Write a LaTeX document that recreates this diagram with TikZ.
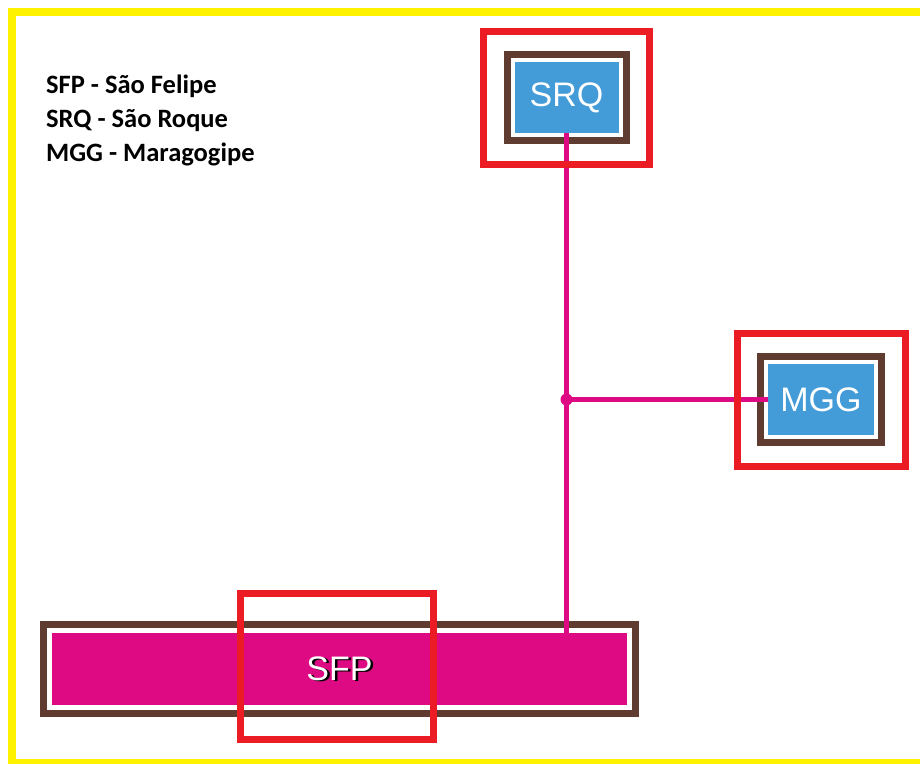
\documentclass[tikz,border=0pt]{standalone}
\usepackage{fontspec}
\setmainfont{Liberation Sans}
\newfontfamily\legendfont{Carlito}
\usetikzlibrary{fit}
\definecolor{stnblue}{HTML}{439BD7}
\definecolor{framebrown}{HTML}{603C30}
\definecolor{framered}{HTML}{EC1C24}
\definecolor{linkpink}{HTML}{DE0A84}
\tikzset{
  station/.style={fill=stnblue, text=white, minimum width=104, minimum height=71,
    inner sep=0, outer sep=0, font=\fontsize{34}{40}\selectfont},
  brownframe/.style={draw=framebrown, line width=7, inner sep=7.5, outer sep=0},
  redframe/.style={draw=framered, line width=7, inner sep=31, outer sep=0},
  link/.style={draw=linkpink, line width=5},
  legend/.style={anchor=base west, inner sep=0,
    font=\legendfont\bfseries\fontsize{26.5}{30}\selectfont}
}

\begin{document}
\begin{tikzpicture}[x=1pt,y=-1pt]
\useasboundingbox (0,0) rectangle (920,763);
\clip (0,0) rectangle (920,763);
\draw[yellow, line width=8] (12,12) rectangle (940,763);

\node[legend] at (46,93) (leg1) {SFP - São Felipe};
\node[legend] at (46,127) (leg2) {SRQ - São Roque};
\node[legend] at (46,161) (leg3) {MGG - Maragogipe};

\node[station] at (566.5,97.5) (srq) {SRQ};
\node[station, minimum width=106] at (821,399.5) (mgg) {MGG};
\node[station, fill=linkpink, minimum width=575, minimum height=72] at (339.5,669) (sfp) {};

\node[brownframe, fit=(srq)] (srqb) {};
\node[brownframe, fit=(mgg)] (mggb) {};
\node[brownframe, inner sep=8.5, fit=(sfp)] (sfpb) {};

\coordinate (jn) at (srq.south |- mgg.west);
\draw[link] (srq.south) -- (srq.south |- sfp.north);
\draw[link] (jn) -- (mgg.west);
\fill[linkpink] (jn) circle (6pt);

\node[redframe, fit=(srq)] (srqr) {};
\node[redframe, fit=(mgg)] (mggr) {};
\node[redframe, minimum width=193, minimum height=146] at (337,666.5) (sfpr) {};

\node[station, fill=none, text=black] at ([xshift=2.5pt,yshift=-1pt]sfp) (sfps) {SFP};
\node[station, fill=none] at (sfp) (sfpt) {SFP};
\end{tikzpicture}
\end{document}
